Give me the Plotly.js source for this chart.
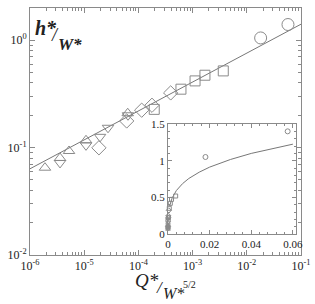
<!DOCTYPE html>
<html><head><meta charset="utf-8">
<script src="https://cdn.plot.ly/plotly-3.0.1.min.js"></script>
<style>html,body{margin:0;padding:0;background:#fff;}#c{width:315px;height:304px;}</style>
</head><body><div id="c"></div>
<script>
// ---- data ----
const triUpQ = [1.89e-6, 3.58e-6, 5.25e-6, 1.08e-5, 6.35e-5];
const triUpH = [0.065, 0.080, 0.093, 0.117, 0.209];
const triDnQ = [3.58e-6, 1.08e-5, 1.96e-5, 2.75e-5, 6.43e-5];
const triDnH = [0.072, 0.105, 0.126, 0.153, 0.200];
const diaQ = [1.87e-5, 6.08e-5, 1.15e-4, 1.78e-4, 3.94e-4];
const diaH = [0.0996, 0.177, 0.223, 0.248, 0.323];
const sqQ = [1.96e-4, 6.1e-4, 1.11e-3, 1.69e-3, 3.68e-3];
const sqH = [0.227, 0.350, 0.418, 0.472, 0.518];
const cirQ = [0.018, 0.0575];
const cirH = [1.05, 1.40];
const fitQ = [1e-6, 1e-1];
const fitH = [0.0635, 1.41];
const insetFitQ = [0.0008, 0.001, 0.002, 0.004, 0.007, 0.01, 0.015, 0.02, 0.03, 0.04, 0.05, 0.06];
const insetFitH = [0.384, 0.407, 0.491, 0.592, 0.687, 0.757, 0.843, 0.912, 1.016, 1.099, 1.167, 1.225];
const mainTickX = [1e-6, 1e-5, 1e-4, 1e-3, 1e-2, 1e-1];
const mainTickXText = ['10<sup>-6</sup>','10<sup>-5</sup>','10<sup>-4</sup>','10<sup>-3</sup>','10<sup>-2</sup>','10<sup>-1</sup>'];
const mainTickY = [1e-2, 1e-1, 1];
const mainTickYText = ['10<sup>-2</sup>','10<sup>-1</sup>','10<sup>0</sup>'];

const gray = '#8a8a8a';
const FONT = 'Liberation Serif';
function mk(sym, size){ return {symbol: sym, size: size, color: gray, line: {color: gray, width: 1}}; }
const series = [
  [triUpQ, triUpH, 'triangle-up-open', 10, 4],
  [triDnQ, triDnH, 'triangle-down-open', 10, 4],
  [diaQ, diaH, 'diamond-open', 11, 4],
  [sqQ, sqH, 'square-open', 10, 4],
  [cirQ, cirH, 'circle-open', 12, 5]
];
const traces = [];
traces.push({x: fitQ, y: fitH, mode: 'lines', line: {color: '#777', width: 1}, xaxis: 'x', yaxis: 'y', hoverinfo: 'skip'});
series.forEach(s => traces.push({x: s[0], y: s[1], mode: 'markers', marker: mk(s[2], s[3]), xaxis: 'x', yaxis: 'y'}));
traces.push({x: insetFitQ, y: insetFitH, mode: 'lines', line: {color: '#777', width: 1}, xaxis: 'x2', yaxis: 'y2'});
series.forEach(s => traces.push({x: s[0], y: s[1], mode: 'markers', marker: mk(s[2], s[4]), xaxis: 'x2', yaxis: 'y2', cliponaxis: false}));

// minor tick positions for log axes (2..9 in every decade)
function logMinor(a, b){ const v = []; for (let e = a; e < b; e++) for (let k = 2; k <= 9; k++) v.push(k * Math.pow(10, e)); return v; }

const L = 30, R = 301, T = 8, B = 255;
const px = v => (v - L) / (R - L);
const py = v => (B - v) / (B - T);
function ann(text, x, y, size, italic){
  return {text: italic ? '<i>' + text + '</i>' : text, xref: 'paper', yref: 'paper', x: px(x), y: py(y),
    showarrow: false, xanchor: 'center', yanchor: 'middle', font: {family: FONT, size: size, color: '#222'}};
}
const axBase = {showgrid: false, zeroline: false, showline: true, linecolor: gray, linewidth: 1, mirror: 'ticks',
  ticks: 'inside', tickcolor: gray, ticklen: 5, tickfont: {family: FONT, size: 12, color: '#222'}};

const layout = {
  width: 315, height: 304, showlegend: false,
  paper_bgcolor: '#fff', plot_bgcolor: '#fff',
  font: {family: FONT},
  margin: {l: L, r: 315 - R, t: T, b: 304 - B},
  xaxis: Object.assign({}, axBase, {type: 'log', range: [-6, -1], tickvals: mainTickX, ticktext: mainTickXText,
    minor: {ticks: 'inside', ticklen: 3, tickcolor: gray, showgrid: false, tickmode: 'array', tickvals: logMinor(-6, -1)}, domain: [0, 1]}),
  yaxis: Object.assign({}, axBase, {type: 'log', range: [-2, 0.3], tickvals: mainTickY, ticktext: mainTickYText,
    minor: {ticks: 'inside', ticklen: 3, tickcolor: gray, showgrid: false, tickmode: 'array', tickvals: logMinor(-2, 1)}, domain: [0, 1]}),
  xaxis2: Object.assign({}, axBase, {anchor: 'y2', range: [0, 0.0615], tickvals: [0, 0.02, 0.04, 0.06],
    domain: [px(168), px(296)], ticklen: 4, tickfont: {family: FONT, size: 11, color: '#222'},
    minor: {ticks: 'inside', ticklen: 2, tickcolor: gray, showgrid: false, tickmode: 'linear', tick0: 0, dtick: 0.004}}),
  yaxis2: Object.assign({}, axBase, {anchor: 'x2', range: [0, 1.5], tickvals: [0, 0.5, 1, 1.5],
    domain: [py(234), py(124)], ticklen: 4, tickfont: {family: FONT, size: 11, color: '#222'},
    minor: {ticks: 'inside', ticklen: 2, tickcolor: gray, showgrid: false, tickmode: 'linear', tick0: 0, dtick: 0.1}}),
  annotations: [
    ann('<b>h*</b>', 46, 28, 20, true),
    ann('/', 55, 35, 18, true),
    ann('<b>W*</b>', 70, 44, 17, true),
    ann('Q*', 147, 281, 19, true),
    ann('/', 160, 287, 17, true),
    ann('W*', 173, 293, 16, true),
    ann('5/2', 189, 284, 10, false)
  ]
};
Plotly.newPlot('c', traces, layout, {staticPlot: true, displayModeBar: false});
</script></body></html>
